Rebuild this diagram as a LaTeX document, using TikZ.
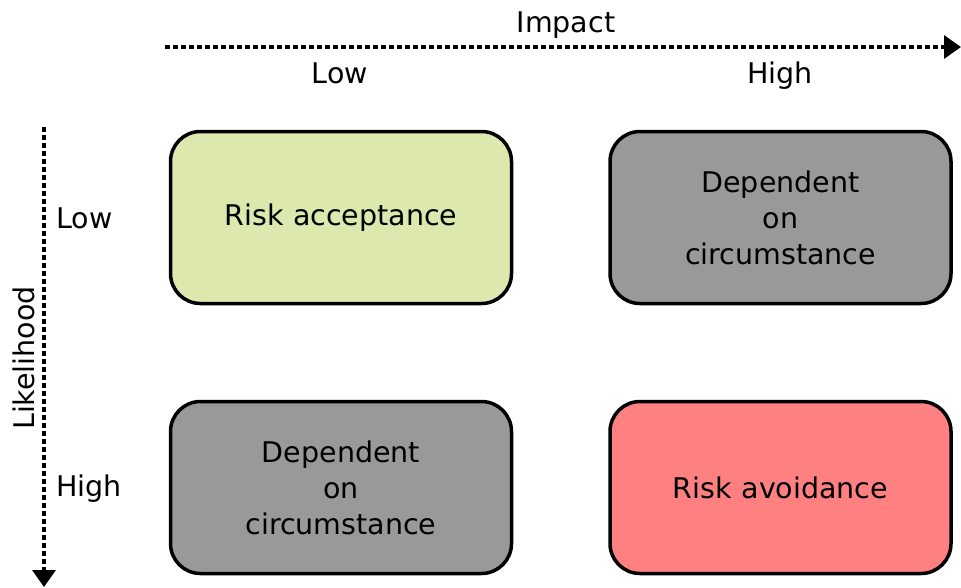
\documentclass[tikz,border=0pt]{standalone}
\usepackage{fontspec}
\setmainfont{DejaVu Sans}
\usetikzlibrary{arrows.meta}
\definecolor{lowgreen}{HTML}{DDE8AF}
\definecolor{midgray}{HTML}{999999}
\definecolor{highred}{HTML}{FF8080}
\begin{document}
\begin{tikzpicture}[x=1pt,y=-1pt,
  riskbox/.style={draw=black, line width=3.5pt, rounded corners=30pt,
    minimum width=341pt, minimum height=172pt, text width=320pt, align=center,
    font=\fontsize{28.5}{36}\selectfont, inner sep=0pt},
  axislabel/.style={font=\fontsize{28.5}{32}\selectfont, inner sep=0pt},
  axisarrow/.style={line width=3.5pt, dash pattern=on 5pt off 3pt,
    -{Triangle[length=17pt,width=23pt]}}]
\useasboundingbox (0,0) rectangle (961,587);
% boxes
\node[riskbox, fill=lowgreen] (ra) at (341,217.5) {Risk acceptance};
\node[riskbox, fill=midgray] (dc1) at (780.5,217.5) {Dependent\\on\\circumstance};
\node[riskbox, fill=midgray] (dc2) at (341,487.5) {Dependent\\on\\circumstance};
\node[riskbox, fill=highred] (rv) at (780.5,487.5) {Risk avoidance};
% impact axis
\coordinate (istart) at (165,47);
\coordinate (iend) at (961,47);
\draw[axisarrow] (istart) -- (iend);
\node[axislabel, anchor=base] (impact) at (566,32) {Impact};
\node[axislabel, anchor=base] (ilow) at (340,83) {Low};
\node[axislabel, anchor=base] (ihigh) at (780,83) {High};
% likelihood axis
\coordinate (lstart) at (44,127);
\coordinate (lend) at (44,587);
\draw[axisarrow] (lstart) -- (lend);
\node[axislabel, rotate=90] (likelihood) at (24,358) {Likelihood};
\node[axislabel, anchor=base west] (llow) at (56,228) {Low};
\node[axislabel, anchor=base west] (lhigh) at (56,496) {High};
\end{tikzpicture}
\end{document}
